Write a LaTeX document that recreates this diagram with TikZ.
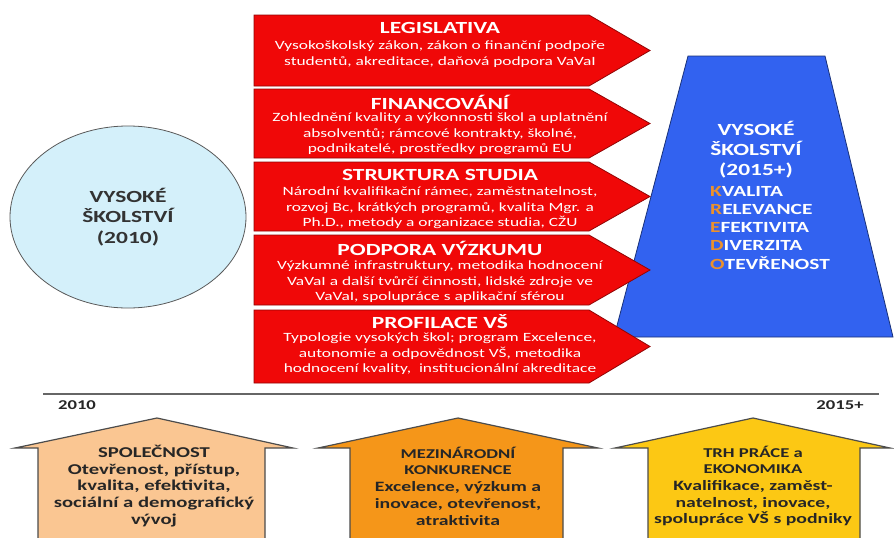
\documentclass[tikz,border=0pt]{standalone}
\usepackage{fontspec}
\setmainfont{Carlito}[FakeStretch=1.38]
\usetikzlibrary{shapes.geometric}
\definecolor{arrowred}{RGB}{240,8,8}
\definecolor{kredblue}{RGB}{50,98,240}
\definecolor{circlecyan}{RGB}{212,240,250}
\definecolor{peach}{RGB}{250,198,146}
\definecolor{darkorange}{RGB}{245,150,25}
\definecolor{goldyellow}{RGB}{252,200,20}
\definecolor{letterorange}{RGB}{235,145,45}
\newcommand{\uphead}[1]{{\fontsize{13.5}{16.7}\selectfont #1}}

\begin{document}
\begin{tikzpicture}[x=1pt,y=-1pt,
        redarrow/.style = {fill=arrowred, draw=arrowred!60!black, line width=0.8pt},
        upbox/.style = {draw=black!70, line width=1.2pt},
        redtitle/.style = {text=white, font=\bfseries\fontsize{17}{19}\selectfont},
        redtext/.style = {text=white, align=center, inner sep=0pt,
            font=\fontsize{12.6}{15.6}\selectfont},
        uptext/.style = {text=black!85, align=center, inner sep=0pt,
            font=\bfseries\fontsize{14.3}{16.7}\selectfont},
        yearlabel/.style = {text=black!85, font=\bfseries\fontsize{13.5}{14}\selectfont}]
    \useasboundingbox (0,0) rectangle (894,538);

    % present state
    \node (now) [ellipse, draw=black!65, line width=0.8pt, fill=circlecyan,
        minimum width=236pt, minimum height=182pt, align=center,
        text=black!80, font=\bfseries\fontsize{17}{20.5}\selectfont]
        at (128,217) {VYSOKÉ\\ŠKOLSTVÍ\\(2010)};

    % target state
    \draw[fill=kredblue, draw=kredblue!50!black, line width=0.8pt]
        (688,56) -- (825,56) -- (893,337) -- (614,337) -- cycle;
    \node (goal) [text=white, align=center,
        font=\bfseries\fontsize{17}{20}\selectfont] at (756,150)
        {VYSOKÉ\\ŠKOLSTVÍ\\(2015+)};
    \node (kredo) [text=white, align=left, anchor=north west, inner sep=0pt,
        font=\bfseries\fontsize{15.5}{18.2}\selectfont] at (710,186)
        {\textcolor{letterorange}{K}VALITA\\
         \textcolor{letterorange}{R}ELEVANCE\\
         \textcolor{letterorange}{E}FEKTIVITA\\
         \textcolor{letterorange}{D}IVERZITA\\
         \textcolor{letterorange}{O}TEVŘENOST};

    % reform areas
    \draw[redarrow] (254,15) -- (589,15) -- (650,50.5) -- (589,86) -- (254,86) -- cycle;
    \node (leg) [redtitle] at (440,28) {LEGISLATIVA};
    \node (legtext) [redtext] at (440,54)
        {Vysokoškolský zákon, zákon o finanční podpoře\\
         studentů, akreditace, daňová podpora VaVaI};

    \draw[redarrow] (254,89) -- (589,89) -- (650,123.5) -- (589,158) -- (254,158) -- cycle;
    \node (fin) [redtitle] at (440,102) {FINANCOVÁNÍ};
    \node (fintext) [redtext] at (440,134)
        {Zohlednění kvality a výkonnosti škol a uplatnění\\
         absolventů; rámcové kontrakty, školné,\\
         podnikatelé, prostředky programů EU};

    \draw[redarrow] (254,162) -- (589,162) -- (650,196.5) -- (589,231) -- (254,231) -- cycle;
    \node (str) [redtitle] at (440,175) {STRUKTURA STUDIA};
    \node (strtext) [redtext] at (440,208)
        {Národní kvalifikační rámec, zaměstnatelnost,\\
         rozvoj Bc, krátkých programů, kvalita Mgr. a\\
         Ph.D., metody a organizace studia, CŽU};

    \draw[redarrow] (254,235) -- (589,235) -- (650,270) -- (589,305) -- (254,305) -- cycle;
    \node (vyz) [redtitle] at (440,248) {PODPORA VÝZKUMU};
    \node (vyztext) [redtext] at (440,282)
        {Výzkumné infrastruktury, metodika hodnocení\\
         VaVaI a další tvůrčí činnosti, lidské zdroje ve\\
         VaVaI, spolupráce s aplikační sférou};

    \draw[redarrow] (254,310) -- (589,310) -- (650,346.5) -- (589,383) -- (254,383) -- cycle;
    \node (pro) [redtitle] at (440,322) {PROFILACE VŠ};
    \node (protext) [redtext] at (440,354)
        {Typologie vysokých škol; program Excelence,\\
         autonomie a odpovědnost VŠ, metodika\\
         hodnocení kvality,\ \ institucionální akreditace};

    % time axis
    \coordinate (start) at (43,394);
    \coordinate (end) at (879,394);
    \draw[black!60, line width=1.8pt] (start) -- (end);
    \node (y2010) [yearlabel] at (77,405) {2010};
    \node (y2015) [yearlabel] at (840,405) {2015+};

    % driving forces
    \draw[upbox, fill=peach] (38,545) -- (38,448) -- (15,448) -- (157,418)
        -- (293,448) -- (265,448) -- (265,545);
    \node (soc) [uptext, font=\bfseries\fontsize{15}{16.7}\selectfont] at (154,486)
        {{\fontsize{15}{16.7}\selectfont SPOLEČNOST}\\
         Otevřenost, přístup,\\kvalita, efektivita,\\
         sociální a demografický\\vývoj};

    \draw[upbox, fill=darkorange] (350,545) -- (350,448) -- (318,448) -- (458,418)
        -- (598,448) -- (563,448) -- (563,545);
    \node (int) [uptext] at (458,486)
        {\uphead{MEZINÁRODNÍ}\\\uphead{KONKURENCE}\\
         Excelence, výzkum a\\inovace, otevřenost,\\atraktivita};

    \draw[upbox, fill=goldyellow] (648,545) -- (648,448) -- (615,448) -- (753,418)
        -- (890,448) -- (860,448) -- (860,545);
    \node (trh) [uptext] at (753,486)
        {\uphead{TRH PRÁCE a}\\\uphead{EKONOMIKA}\\
         Kvalifikace, zaměst-\\natelnost, inovace,\\spolupráce VŠ s podniky};
\end{tikzpicture}
\end{document}
